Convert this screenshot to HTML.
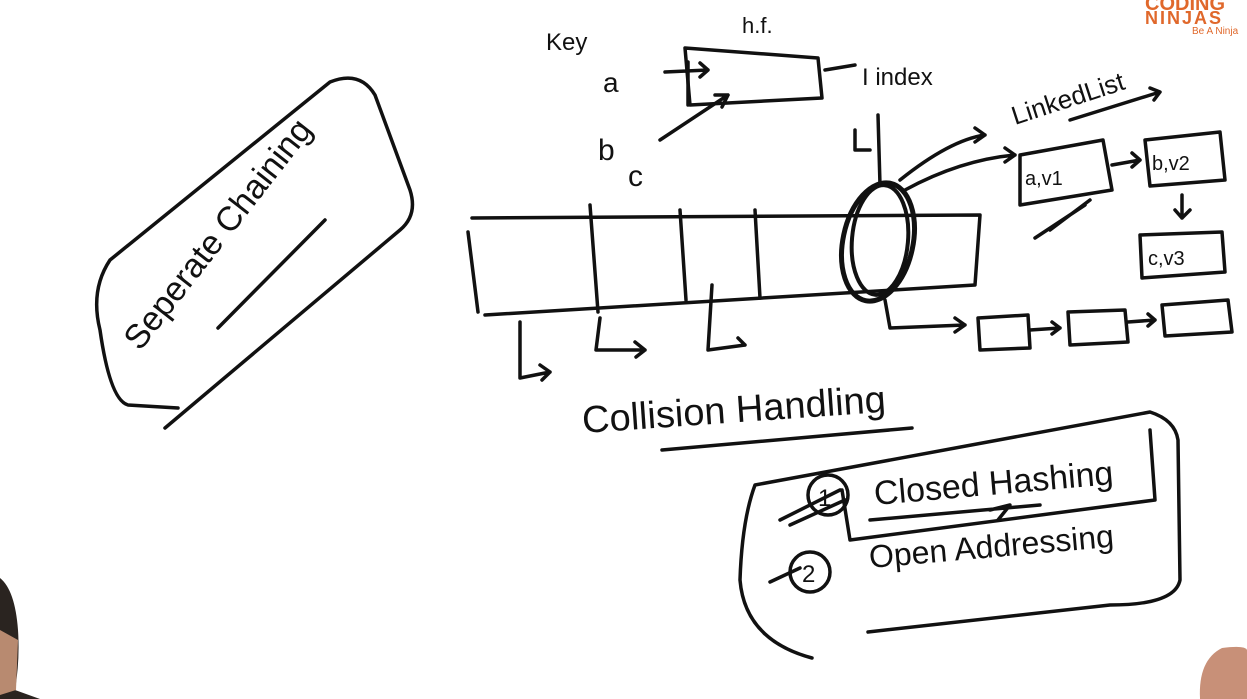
<!DOCTYPE html>
<html><head><meta charset="utf-8"><style>
html,body{margin:0;padding:0;background:#fff;width:1247px;height:699px;overflow:hidden}
svg{display:block}
text{font-family:"Liberation Sans",sans-serif;fill:#111}
</style></head><body>
<svg width="1247" height="699" viewBox="0 0 1247 699">
<g stroke="#111" stroke-width="3.5" fill="none" stroke-linecap="round" stroke-linejoin="round">
 <path d="M178,408 L128,405 Q110,400 100,330 Q90,290 110,260 L330,82 Q360,70 375,95 L410,190 Q418,215 400,230 L165,428"/>
 <path d="M218,328 L325,220"/>
 <g>
  <path d="M472,218 L980,215 L975,285 L485,315"/>
  <path d="M468,232 L478,312"/>
  <path d="M590,205 L598,312"/>
  <path d="M680,210 L686,300"/>
  <path d="M755,210 L760,298"/>
 </g>
 <ellipse cx="878" cy="242" rx="35" ry="60" stroke-width="5" transform="rotate(12 878 242)"/>
 <ellipse cx="880" cy="240" rx="28" ry="55" stroke-width="4" transform="rotate(5 880 240)"/>
 <path d="M878,115 L880,185 M855,130 L855,150 L870,150"/>
 <path d="M520,322 L520,378 L550,372 M540,365 L550,372 L542,380"/>
 <path d="M600,318 L596,350 L645,350 M635,342 L645,350 L636,357"/>
 <path d="M712,285 L708,350 L745,345 M738,338 L745,345"/>
 <path d="M685,48 L818,58 L822,98 L690,105 Z"/>
 <path d="M665,72 L708,70 M700,63 L708,70 L700,77 M688,62 L688,105"/>
 <path d="M660,140 L728,95 M715,95 L728,95 L722,107"/>
 <path d="M825,70 L855,65"/>
 <path d="M900,180 Q950,140 985,135 M975,128 L985,135 L975,142"/>
 <path d="M905,190 Q960,160 1015,155 M1005,148 L1015,155 L1005,162"/>
 <path d="M1070,120 L1160,92 M1150,88 L1160,92 L1154,100"/>
 <path d="M1020,155 L1103,140 L1112,190 L1020,205 Z"/>
 <path d="M1035,238 L1085,205 M1050,230 L1090,200"/>
 <path d="M1112,165 L1140,160 M1132,153 L1140,160 L1132,167"/>
 <path d="M1145,140 L1220,132 L1225,180 L1150,186 Z"/>
 <path d="M1182,195 L1182,218 M1175,210 L1182,218 L1190,210"/>
 <path d="M1140,235 L1222,232 L1225,272 L1142,278 Z"/>
 <path d="M885,300 L890,328 L965,325 M955,318 L965,325 L955,332"/>
 <path d="M978,318 L1028,315 L1030,348 L980,350 Z"/>
 <path d="M1030,330 L1060,328 M1052,322 L1060,328 L1052,334"/>
 <path d="M1068,312 L1125,310 L1128,342 L1070,345 Z"/>
 <path d="M1128,322 L1155,320 M1148,314 L1155,320 L1148,326"/>
 <path d="M1162,305 L1228,300 L1232,332 L1165,336 Z"/>
 <path d="M662,450 L912,428"/>
 <path d="M812,658 Q745,640 740,580 Q742,520 755,485 L1150,412 Q1175,420 1178,440 L1180,580 Q1175,605 1110,605 L868,632"/>
 <path d="M842,490 L850,540 L1155,500 L1150,430"/>
 <path d="M870,520 L1040,505 M990,510 L1010,505 L998,520"/>
 <circle cx="828" cy="495" r="20"/>
 <path d="M780,520 L840,490 M790,525 L845,500"/>
 <circle cx="810" cy="572" r="20"/>
 <path d="M770,582 L800,568"/>
</g>
<text x="0" y="0" font-size="34" transform="translate(140,352) rotate(-52)">Seperate Chaining</text>
<text x="583" y="433" font-size="38" transform="rotate(-4 583 433)">Collision Handling</text>
<text x="875" y="505" font-size="34" transform="rotate(-5 875 505)">Closed Hashing</text>
<text x="870" y="568" font-size="32" transform="rotate(-5 870 568)">Open Addressing</text>
<text x="818" y="506" font-size="24">1</text>
<text x="802" y="582" font-size="24">2</text>
<text x="546" y="50" font-size="24">Key</text>
<text x="742" y="33" font-size="22">h.f.</text>
<text x="603" y="92" font-size="28">a</text>
<text x="598" y="160" font-size="30">b</text>
<text x="628" y="186" font-size="30">c</text>
<text x="862" y="85" font-size="24">I index</text>
<text x="1015" y="125" font-size="26" transform="rotate(-18 1015 125)">LinkedList</text>
<text x="1025" y="185" font-size="20">a,v1</text>
<text x="1152" y="170" font-size="20">b,v2</text>
<text x="1148" y="265" font-size="20">c,v3</text>
<g>
 <text x="1145" y="10" font-size="20" font-weight="bold" style="fill:#e0682b">CODING</text>
 <text x="1145" y="24" font-size="18" font-weight="bold" style="fill:#e0682b;letter-spacing:2px">NINJAS</text>
 <text x="1192" y="34" font-size="10" style="fill:#e0682b">Be A Ninja</text>
</g>
<path d="M0,578 Q15,590 18,630 Q20,660 15,690 L40,699 L0,699 Z" fill="#2a2420"/>
<path d="M0,630 L18,640 L16,690 L0,695 Z" fill="#b88a70"/>
<path d="M1200,699 Q1198,660 1222,648 Q1245,645 1247,650 L1247,699 Z" fill="#c89078"/>
</svg>
</body></html>
